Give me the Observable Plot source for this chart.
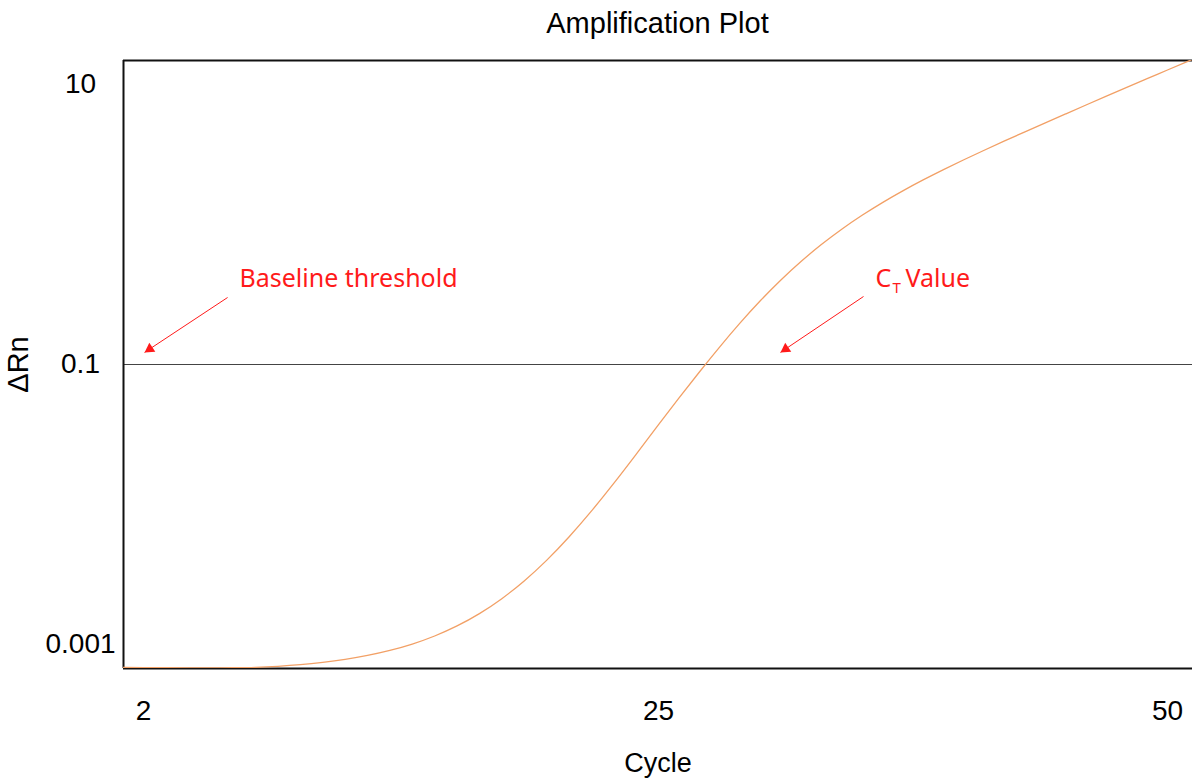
<!DOCTYPE html>
<html>
<head>
<meta charset="utf-8">
<script src="https://cdn.jsdelivr.net/npm/d3@7"></script>
<script src="https://cdn.jsdelivr.net/npm/@observablehq/plot@0.6"></script>
<style>
  html, body { margin: 0; padding: 0; background: #fff; }
  #title {
    box-sizing: border-box;
    height: 40px;
    padding-top: 9px;
    margin-left: 123px;
    width: 1069px;
    text-align: center;
    font: 29px/29px "Liberation Sans", Arial, sans-serif;
    color: #000;
  }
  #chart svg { display: block; }
</style>
</head>
<body>
<div id="title">Amplification Plot</div>
<div id="chart"></div>
<script>
// Amplification curve: ΔRn per PCR cycle
const cycles = [1, 2, 3, 4, 5, 6, 7, 8, 9, 10, 11, 12, 13, 14, 15, 16, 17, 18, 19, 20,
  21, 22, 23, 24, 25, 26, 27, 28, 29, 30, 31, 32, 33, 34, 35, 36, 37, 38, 39, 40,
  41, 42, 43, 44, 45, 46, 47, 48, 49, 50, 51, 52];
const deltaRn = [0.000687, 0.000685, 0.000682, 0.000681, 0.000679, 0.000682, 0.000686, 0.000698,
  0.000716, 0.000744, 0.000781, 0.000833, 0.000904, 0.001003, 0.001144, 0.001349, 0.001651, 0.002110,
  0.002822, 0.003961, 0.005821, 0.008913, 0.01410, 0.02280, 0.03715, 0.05754, 0.08825, 0.1336, 0.1982,
  0.2865, 0.4021, 0.5468, 0.7221, 0.9287, 1.167, 1.438, 1.743, 2.086, 2.471, 2.904, 3.395, 3.955,
  4.594, 5.326, 6.166, 7.138, 8.250, 9.535, 11.0, 12.70, 14.65, 16.87];

// Threshold level and axis ticks
const thresholdRn = 0.1;
const xTicks = [2, 25, 50];
const yTicks = [0.001, 0.1, 10];
const xDomain = [1.1, 25, 51.23];
const yDomain = [0.000674, 14.84];

// Annotation arrows (tail → head) and their labels
const arrowFromCycle = [5.75, 35.07];
const arrowFromRn = [0.301, 0.306];
const arrowToCycle = [2.04, 30.99];
const arrowToRn = [0.122, 0.122];
const labelCycle = [6.28, 35.66];
const labelRn = [0.355, 0.355];

const curve = cycles.map((c, i) => ({cycle: c, rn: deltaRn[i]}));
const arrows = arrowFromCycle.map((x1, i) => ({
  x1, y1: arrowFromRn[i], x2: arrowToCycle[i], y2: arrowToRn[i]
}));

const red = "#ff1a1a";
const annFont = "Noto Sans, Open Sans, sans-serif";
const axisFont = "Liberation Sans, Arial, sans-serif";

const chart = Plot.plot({
  width: 1192,
  height: 740,
  marginLeft: 123,
  marginRight: 0,
  marginTop: 20,
  marginBottom: 112,
  style: {fontFamily: axisFont, color: "#000", background: "#fff"},
  x: {type: "linear", domain: xDomain, range: [123, 658, 1192]},
  y: {type: "log", domain: yDomain},
  marks: [
    // threshold line
    Plot.ruleY([thresholdRn], {stroke: "#444", strokeWidth: 1.2}),
    // plot border (left, top, bottom)
    Plot.ruleX([xDomain[0]], {stroke: "#111", strokeWidth: 2}),
    Plot.ruleY([yDomain[0], yDomain[1]], {stroke: "#111", strokeWidth: 2}),
    // amplification curve, smoothed through the per-cycle readings
    Plot.line(curve, {x: "cycle", y: "rn", stroke: "#f2a066", strokeWidth: 1.3, curve: "basis", clip: true}),
    // annotation arrows
    Plot.link(arrows, {x1: "x1", y1: "y1", x2: "x2", y2: "y2", stroke: red, strokeWidth: 1}),
    Plot.dot(arrows, {x: "x2", y: "y2", symbol: "triangle", r: 4, fill: red, stroke: "none",
      rotate: 236, dx: 5.2, dy: -3.4}),
    // annotation labels
    Plot.text([{x: labelCycle[0], y: labelRn[0], t: "Baseline threshold"}],
      {x: "x", y: "y", text: "t", textAnchor: "start", lineAnchor: "bottom", fill: red, fontSize: 25, fontFamily: annFont}),
    Plot.text([{x: labelCycle[1], y: labelRn[1], t: "C"}],
      {x: "x", y: "y", text: "t", textAnchor: "start", lineAnchor: "bottom", fill: red, fontSize: 25, fontFamily: annFont}),
    Plot.text([{x: labelCycle[1], y: labelRn[1], t: "T"}],
      {x: "x", y: "y", text: "t", textAnchor: "start", lineAnchor: "bottom", fill: red, fontSize: 15, fontFamily: annFont, dx: 17, dy: 6}),
    Plot.text([{x: labelCycle[1], y: labelRn[1], t: "Value"}],
      {x: "x", y: "y", text: "t", textAnchor: "start", lineAnchor: "bottom", fill: red, fontSize: 25, fontFamily: annFont, dx: 30}),
    // axes
    Plot.axisY({ticks: yTicks, tickSize: 0, tickFormat: d => String(d), textAnchor: "middle", dx: -34,
      fontSize: 28, label: null}),
    Plot.axisX({ticks: xTicks, tickSize: 0, tickFormat: d => String(d), dy: 23, fontSize: 28, label: null}),
    Plot.text(["ΔRn"], {frameAnchor: "left", textAnchor: "middle", rotate: -90, dx: -105, fontSize: 29, lineAnchor: "middle"}),
    Plot.text(["Cycle"], {frameAnchor: "bottom", lineAnchor: "top", dy: 84, fontSize: 27})
  ]
});

document.getElementById("chart").appendChild(chart);
</script>
</body>
</html>
